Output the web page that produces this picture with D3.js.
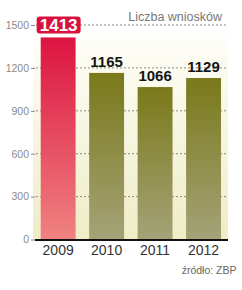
<!DOCTYPE html>
<html><head><meta charset="utf-8">
<script src="https://cdn.jsdelivr.net/npm/d3@7"></script>
<style>body{margin:0;background:#fff}svg{display:block}</style>
</head><body>
<script>
const years = ["2009","2010","2011","2012"];
const values = [1413,1165,1066,1129];
const highlight = [true,false,false,false];
const yTicks = [0,300,600,900,1200,1500];
const title = "Liczba wniosków";
const source = "źródło: ZBP";

const W=242,H=290;
const svg=d3.select("body").append("svg").attr("width",W).attr("height",H);
const x=d3.scaleBand().domain(years).range([40.7,221]).paddingInner(0.28).paddingOuter(0);
const y=d3.scaleLinear().domain([0,1500]).range([239.5,25]);

const defs=svg.append("defs");
const bg=defs.append("linearGradient").attr("id","bg").attr("x1",0).attr("y1",0).attr("x2",0).attr("y2",1);
bg.append("stop").attr("offset","0").attr("stop-color","#ffffff");
bg.append("stop").attr("offset","0.15").attr("stop-color","#fdfcf3");
bg.append("stop").attr("offset","1").attr("stop-color","#efecc6");
const gr=defs.append("linearGradient").attr("id","gred").attr("x1",0).attr("y1",0).attr("x2",0).attr("y2",1);
gr.append("stop").attr("offset","0").attr("stop-color","#dc1440");
gr.append("stop").attr("offset","1").attr("stop-color","#f08282");
const go=defs.append("linearGradient").attr("id","golive").attr("x1",0).attr("y1",0).attr("x2",0).attr("y2",1);
go.append("stop").attr("offset","0").attr("stop-color","#7a791a");
go.append("stop").attr("offset","1").attr("stop-color","#a4a378");

svg.append("rect").attr("x",33).attr("y",y(1500)).attr("width",228-33).attr("height",y(0)-y(1500)).attr("fill","url(#bg)");

// grid
const ya=d3.axisLeft(y).tickValues(yTicks).tickFormat(d3.format("d")).tickSize(4).tickPadding(2);
const gy=svg.append("g").attr("transform","translate(35,0)").call(ya);
gy.select(".domain").remove();
gy.selectAll(".tick line").attr("stroke","#888").attr("stroke-width",1);
gy.selectAll(".tick text").attr("font-family","Liberation Sans, Arial, sans-serif").attr("font-size",10.5).attr("fill","#8a8a8a");
svg.append("g").selectAll("line").data(yTicks.filter(d=>d>0)).join("line")
  .attr("x1",36).attr("x2",228).attr("y1",d=>y(d)).attr("y2",d=>y(d))
  .attr("stroke","#8a8a8a").attr("stroke-width",1).attr("stroke-dasharray","2,2");

// bars
svg.append("g").selectAll("rect").data(years).join("rect")
  .attr("x",d=>x(d)).attr("width",x.bandwidth())
  .attr("y",(d,i)=>y(values[i])).attr("height",(d,i)=>y(0)-y(values[i]))
  .attr("fill",(d,i)=>highlight[i]?"url(#gred)":"url(#golive)");

// baseline
svg.append("line").attr("x1",35).attr("x2",228).attr("y1",y(0)+0.5).attr("y2",y(0)+0.5).attr("stroke","#111").attr("stroke-width",2);

// value labels
years.forEach((d,i)=>{
  const cx=x(d)+x.bandwidth()/2;
  if(highlight[i]){
    svg.append("rect").attr("x",cx-21.5).attr("y",y(values[i])-21).attr("width",44).attr("height",17).attr("rx",3).attr("fill","#d6123c");
    svg.append("text").attr("x",cx+0.5).attr("y",y(values[i])-6.2).attr("text-anchor","middle")
      .attr("font-family","Liberation Sans, Arial, sans-serif").attr("font-weight","bold").attr("font-size",17).attr("fill","#fff").text(values[i]);
  } else {
    svg.append("text").attr("x",cx).attr("y",y(values[i])-6).attr("text-anchor","middle")
      .attr("font-family","Liberation Sans, Arial, sans-serif").attr("font-weight","bold").attr("font-size",15).attr("fill","#151515").text(values[i]);
  }
});

// x labels
const xa=d3.axisBottom(x).tickSize(0).tickPadding(0);
const gx=svg.append("g").attr("transform","translate(0,"+(y(0))+")").call(xa);
gx.select(".domain").remove();
gx.selectAll(".tick text").attr("dy",null).attr("y",15.5).attr("font-family","Liberation Sans, Arial, sans-serif").attr("font-size",14).attr("fill","#333");

svg.append("text").attr("x",222).attr("y",20.5).attr("text-anchor","end")
  .attr("font-family","Liberation Sans, Arial, sans-serif").attr("font-size",12.5).attr("fill","#777").text(title);
svg.append("text").attr("x",236.5).attr("y",274).attr("text-anchor","end")
  .attr("font-family","Liberation Sans, Arial, sans-serif").attr("font-size",10.5).attr("fill","#666").text(source);
</script>
</body></html>
